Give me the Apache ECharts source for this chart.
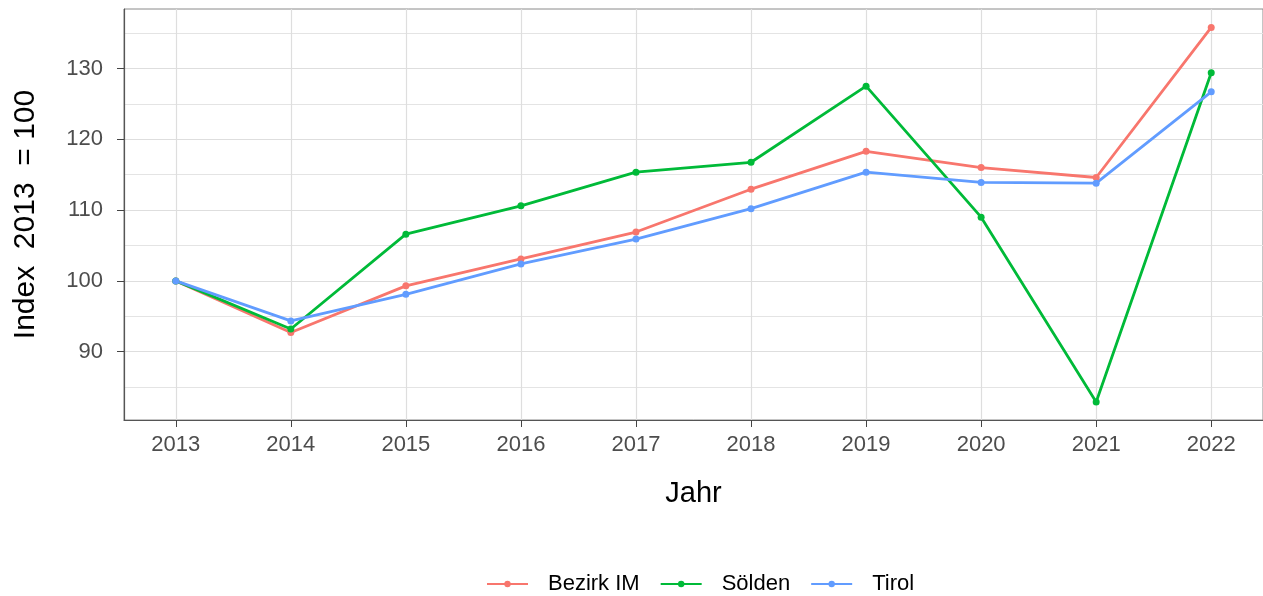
<!DOCTYPE html>
<html>
<head>
<meta charset="utf-8">
<script src="https://cdn.jsdelivr.net/npm/echarts@6/dist/echarts.min.js"></script>
<style>
  html, body { margin: 0; padding: 0; background: #fff; }
  #chart { width: 1263px; height: 596px; }
</style>
</head>
<body>
<div id="chart"></div>
<script>
// data
const years = [2013, 2014, 2015, 2016, 2017, 2018, 2019, 2020, 2021, 2022];
const bezirkIM = [100, 92.7, 99.3, 103.1, 106.9, 112.95, 118.3, 116.0, 114.6, 135.8];
const soelden = [100, 93.2, 106.6, 110.6, 115.35, 116.75, 127.5, 109.0, 82.9, 129.4];
const tirol = [100, 94.35, 98.1, 102.4, 105.9, 110.2, 115.35, 113.9, 113.8, 126.7];
const yLabels = [90, 100, 110, 120, 130];
const yMinor = [85, 95, 105, 115, 125, 135];

const font = "Liberation Sans, Arial, sans-serif";

function makeSeries(name, values, color) {
  return {
    name: name,
    type: "line",
    data: years.map((y, i) => [y, values[i]]),
    symbol: "circle",
    symbolSize: 7,
    lineStyle: { width: 2.8, color: color },
    itemStyle: { color: color },
    emphasis: { disabled: true },
    animation: false,
  };
}

const chart = echarts.init(document.getElementById("chart"));

const option = {
  backgroundColor: "#fff",
  textStyle: { fontFamily: font },
  grid: {
    left: 124,
    top: 9,
    width: 1141,
    height: 411,
    show: true,
    borderColor: "#8a8a8a",
    borderWidth: 1,
    containLabel: false,
  },
  xAxis: {
    type: "value",
    min: 2012.55,
    max: 2022.45,
    name: "Jahr",
    nameLocation: "middle",
    nameGap: 59,
    nameTextStyle: { fontSize: 29, color: "#000", fontFamily: font },
    axisLine: { show: true, lineStyle: { color: "#555", width: 1.2 } },
    axisTick: { show: true, customValues: years, length: 7, lineStyle: { color: "#444" } },
    axisLabel: {
      customValues: years,
      color: "#4d4d4d",
      fontSize: 22,
      margin: 14,
      fontFamily: font,
      formatter: (v) => String(v),
    },
    splitLine: { show: true, lineStyle: { color: "#dedede", width: 1.2 } },
  },
  yAxis: [
    {
      type: "value",
      min: 80.35,
      max: 138.4,
      name: "Index  2013  = 100",
      nameLocation: "middle",
      nameGap: 83,
      nameRotate: 90,
      nameTextStyle: { fontSize: 30, color: "#000", fontFamily: font },
      axisLine: { show: true, lineStyle: { color: "#555", width: 1.2 } },
      axisTick: { show: true, customValues: yLabels, length: 7, lineStyle: { color: "#444" } },
      axisLabel: {
        customValues: yLabels,
        color: "#4d4d4d",
        fontSize: 22,
        margin: 21,
        fontFamily: font,
      },
      splitLine: { show: true, lineStyle: { color: "#dedede", width: 1.2 } },
    },
    {
      type: "value",
      min: 80.35,
      max: 138.4,
      position: "left",
      axisLine: { show: false },
      axisTick: { show: false, customValues: yMinor },
      axisLabel: { show: false, customValues: yMinor },
      splitLine: { show: true, lineStyle: { color: "#e4e4e4", width: 1.2 } },
    },
  ],
  legend: {
    top: 568,
    left: 481,
    itemWidth: 41,
    itemHeight: 8,
    itemGap: 20,
    textStyle: { fontSize: 22, color: "#000", fontFamily: font, padding: [0, 0, 0, 15] },
    data: ["Bezirk IM", "Sölden", "Tirol"],
  },
  series: [
    makeSeries("Bezirk IM", bezirkIM, "#F8766D"),
    makeSeries("Sölden", soelden, "#00BA38"),
    makeSeries("Tirol", tirol, "#619CFF"),
  ],
};

chart.setOption(option);
</script>
</body>
</html>
